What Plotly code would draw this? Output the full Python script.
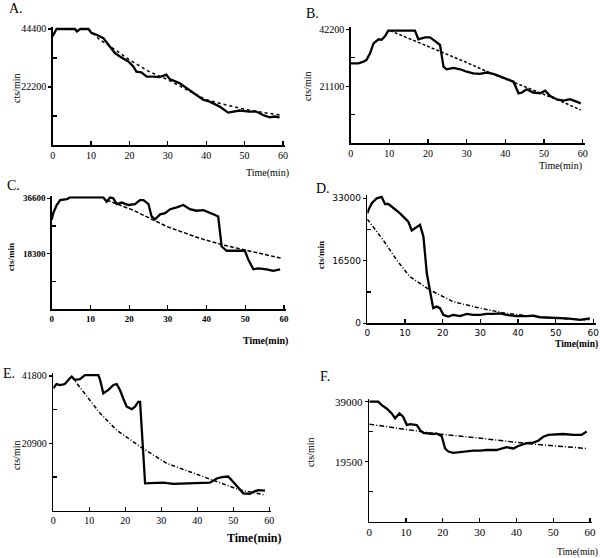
import plotly.graph_objects as go

# ---------------- data ----------------
A_t = [0, 1.0, 5.8, 6.3, 7.2, 9.3, 10.1, 11.4, 13.2, 14.9, 16.2, 17.5, 19.7, 21.0, 21.8, 23.1, 24.5, 26.2, 27.9, 29.6, 30.5, 33.0, 34.8, 37.5, 39.2, 40.9, 43.5, 45.7, 47.0, 48.7, 51.3, 53.0, 54.8, 56.5, 57.8, 59.1]
A_y = [41600, 44400, 44400, 43500, 44400, 44400, 42900, 42200, 40900, 37700, 35200, 33900, 32000, 30100, 28100, 27800, 26200, 26200, 26000, 26900, 25200, 23700, 21800, 19200, 17300, 16600, 14700, 12400, 12800, 13200, 12800, 12800, 11500, 10600, 10900, 10600]
A_fit_t = [9.3, 12, 15, 20, 25, 30, 35, 40, 45, 50, 55, 59.1]
A_fit_y = [44400, 40600, 37700, 32600, 28200, 25000, 21100, 17300, 15400, 13700, 12400, 11500]

B_t = [0, 2.0, 3.3, 4.1, 5.0, 5.9, 7.2, 8.0, 8.9, 9.7, 16.6, 17.5, 19.2, 20.5, 21.4, 22.7, 23.1, 24.0, 24.8, 26.6, 28.3, 30.0, 31.7, 33.4, 35.2, 36.9, 38.6, 40.3, 42.1, 43.4, 44.3, 45.5, 47.2, 49.0, 50.3, 51.6, 53.3, 55.0, 56.7, 58.4, 59.5]
B_y = [29600, 29600, 30200, 30900, 33300, 37000, 38500, 38300, 39700, 41700, 41700, 38500, 39200, 39200, 38300, 36700, 36400, 28400, 27400, 27900, 27400, 26500, 25900, 25700, 26200, 25700, 24700, 23700, 22800, 18500, 18800, 20000, 18800, 18500, 19500, 17500, 16300, 15800, 16300, 15400, 14800]
B_fit_t = [10.2, 15, 20, 25, 30, 35, 40, 45, 50, 55, 59.5]
B_fit_y = [41700, 38900, 36000, 33000, 29900, 26700, 23900, 21000, 18200, 15200, 12300]

C_t = [0, 0.4, 1.3, 2.2, 3.9, 4.7, 13.3, 14.2, 15.1, 15.9, 16.8, 18.1, 19.8, 21.5, 22.8, 23.7, 25.0, 25.8, 26.7, 28.0, 29.3, 30.6, 32.3, 34.0, 35.7, 37.4, 39.2, 40.9, 42.2, 43.0, 43.9, 45.2, 49.9, 50.8, 52.1, 53.4, 55.5, 57.2, 59.0]
C_y = [29500, 31700, 34400, 36000, 36300, 36900, 36900, 35500, 36900, 36600, 34700, 35200, 34400, 34700, 36000, 36000, 34700, 30600, 29700, 31300, 31700, 33000, 33600, 34400, 33000, 32500, 32700, 31900, 31100, 30600, 20700, 19300, 19300, 16300, 13200, 13500, 13200, 12700, 13200]
C_fit_t = [14.2, 17.5, 21, 29.7, 38.3, 44.3, 52, 59.4]
C_fit_y = [36000, 34400, 32700, 27300, 23400, 21200, 19000, 16800]

D_t = [0, 0.3, 1.2, 2.5, 3.8, 4.7, 5.6, 6.9, 8.7, 10.4, 10.9, 11.8, 13.1, 14.0, 14.9, 15.8, 16.6, 17.5, 18.4, 19.3, 20.2, 21.5, 22.8, 24.6, 26.4, 28.1, 29.9, 31.7, 33.5, 35.2, 37.0, 39.6, 42.3, 44.1, 45.8, 49.4, 52.9, 56.5, 59.1]
D_y = [29000, 29900, 31700, 33000, 33400, 31500, 31500, 30400, 29000, 27300, 26800, 24500, 25500, 26000, 22900, 13200, 8800, 4000, 4400, 4000, 2200, 1800, 2200, 1900, 2500, 2200, 2200, 2500, 2500, 2600, 2200, 1900, 1900, 2000, 1600, 1400, 1300, 900, 1300]
D_fit_t = [0, 4.2, 7.8, 11.3, 16.6, 22.8, 29.9, 37, 44.1, 52, 59.1]
D_fit_y = [27500, 22000, 16700, 12300, 8800, 5700, 4000, 2600, 1800, 1200, 900]

E_t = [0, 0.9, 1.9, 3.2, 4.6, 5.1, 6.0, 7.4, 8.8, 12.5, 13.0, 13.9, 15.3, 16.7, 17.6, 18.5, 19.4, 20.4, 21.8, 22.7, 23.6, 24.1, 25.5, 29.6, 30.5, 33.3, 38.9, 43.5, 45.4, 46.8, 48.6, 49.5, 50.9, 52.8, 54.6, 55.6, 57.0, 58.8]
E_y = [38000, 39300, 39000, 39300, 41100, 41600, 40600, 40800, 42100, 42100, 40600, 36400, 37500, 39000, 39300, 37500, 34900, 32300, 31500, 32300, 33800, 33800, 8500, 8500, 8700, 8300, 8500, 8700, 10000, 10400, 10600, 9500, 7700, 5400, 5200, 5900, 6400, 6200]
E_fit_t = [5.1, 9.3, 13, 17.6, 24.1, 31.5, 38.9, 45.4, 51.9, 58.8]
E_fit_y = [41600, 35400, 30200, 25000, 19900, 14700, 11600, 9000, 6400, 4900]

F_t = [0, 2.4, 3.4, 4.7, 6.1, 7.0, 8.2, 9.2, 10.2, 11.1, 12.9, 13.8, 14.7, 17.4, 18.3, 19.7, 20.6, 21.5, 22.8, 25.6, 28.3, 30.1, 31.9, 34.6, 36.4, 37.3, 39.2, 40.5, 42.8, 44.6, 45.9, 47.3, 48.7, 50.9, 52.7, 55.5, 57.7, 59.1]
F_y = [39000, 39000, 37900, 36800, 35200, 33600, 35200, 34100, 31400, 31700, 31400, 29800, 28900, 28500, 28700, 27800, 23800, 22800, 22400, 22800, 23100, 23100, 23300, 23300, 23800, 24200, 23800, 24600, 25500, 25700, 26300, 27600, 28200, 28500, 28500, 28200, 28200, 29300]
F_fit_t = [0, 8.3, 17.4, 26.5, 35.5, 44.6, 59.1]
F_fit_y = [31700, 30300, 28700, 27600, 26500, 25200, 23800]

x_ticks = [0, 10, 20, 30, 40, 50, 60]
y_max = {"A": 44400, "B": 42200, "C": 36600, "D": 33000, "E": 41800, "F": 39000}
y_ticklabels = {"A": ["22200", "44400"], "B": ["21100", "42200"], "C": ["18300", "36600"],
                "D": ["0", "16500", "33000"], "E": ["20900", "41800"], "F": ["19500", "39000"]}

# ---------------- layout helpers ----------------
W, H = 600, 558
serif = "Liberation Serif, Times New Roman, serif"
sans = "DejaVu Sans, Verdana, sans-serif"

panels = [
    dict(k="A", s=(A_t, A_y), f=(A_fit_t, A_fit_y), cal=(52.7, 283, 145, 29), ytop=45300, dash="dot",
         tf=dict(family=serif, size=10), let=(16, 8), cts=(16, 89), time=(267, 173),
         tfont=dict(family=serif, size=10), cfont=dict(family=serif, size=10)),
    dict(k="B", s=(B_t, B_y), f=(B_fit_t, B_fit_y), cal=(350.7, 582.7, 143.3, 29.3), ytop=43000, dash="3px,2px",
         tf=dict(family=serif, size=10), let=(312, 13), cts=(308, 87), time=(560, 166),
         tfont=dict(family=serif, size=10), cfont=dict(family=serif, size=10)),
    dict(k="C", s=(C_t, C_y), f=(C_fit_t, C_fit_y), cal=(51.7, 284, 309.3, 198.3), ytop=37300, dash="4px,2px",
         tf=dict(family=serif, size=9, weight="bold"), let=(13, 186), cts=(11, 257), time=(265, 341),
         tfont=dict(family=serif, size=10, weight="bold"), cfont=dict(family=serif, size=9, weight="bold")),
    dict(k="D", s=(D_t, D_y), f=(D_fit_t, D_fit_y), cal=(367.3, 593.3, 323.3, 198.3), ytop=34000, dash="4px,2px,1px,2px",
         tf=dict(family=sans, size=9), let=(323, 188), cts=(321, 255), time=(576, 344),
         tfont=dict(family=serif, size=9.5, weight="bold"), cfont=dict(family=serif, size=9, weight="bold")),
    dict(k="E", s=(E_t, E_y), f=(E_fit_t, E_fit_y), cal=(53.3, 269.3, 510.7, 376), ytop=42700, dash="4px,2px,1px,2px",
         tf=dict(family=serif, size=10), let=(9, 373), cts=(16, 456), time=(254, 538),
         tfont=dict(family=serif, size=12, weight="bold"), cfont=dict(family=serif, size=10)),
    dict(k="F", s=(F_t, F_y), f=(F_fit_t, F_fit_y), cal=(369.3, 590, 521.7, 401.7), ytop=39800, dash="5px,2px,1px,2px",
         tf=dict(family=serif, size=11), let=(325, 376), cts=(311, 453), time=(577, 552),
         tfont=dict(family=serif, size=9.5), cfont=dict(family=serif, size=10)),
]

fig = go.Figure()
annotations = []
layout = {}
XR = 60.6

for i, p in enumerate(panels):
    n = "" if i == 0 else str(i + 1)
    x0, x60, yb, yt = p["cal"]
    ym = y_max[p["k"]]
    sx = (x60 - x0) / 60.0
    sy = (yb - yt) / ym
    left, right = x0, x0 + XR * sx
    bottom, top = yb, yb - p["ytop"] * sy
    xdom = [left / W, min(right / W, 1.0)]
    ydom = [1 - bottom / H, 1 - top / H]

    if p["k"] == "D":
        major = [0, ym / 2, ym]
    else:
        major = [ym / 2, ym]
    minor = [ym * q / 4 for q in (1, 3)]

    layout["xaxis" + n] = dict(domain=xdom, range=[0, XR], anchor="y" + n, showline=True, linecolor="black",
                               linewidth=1.5, showgrid=False, zeroline=False, ticks="inside", ticklen=4,
                               tickwidth=1.2, tickcolor="black", tickmode="array", tickvals=x_ticks,
                               ticktext=[str(v) for v in x_ticks], tickfont=dict(color="black", **p["tf"]),
                               ticklabeloverflow="allow", automargin=False, fixedrange=True)
    layout["yaxis" + n] = dict(domain=ydom, range=[0, p["ytop"]], anchor="x" + n, showline=True, linecolor="black",
                               linewidth=1.5, showgrid=False, zeroline=False, ticks="outside", ticklen=3,
                               tickwidth=1.2, tickcolor="black", tickmode="array", tickvals=major,
                               ticktext=y_ticklabels[p["k"]], tickfont=dict(color="black", **p["tf"]),
                               ticklabeloverflow="allow", automargin=False, fixedrange=True,
                               minor=dict(tickmode="array", tickvals=minor, ticks="inside", ticklen=4,
                                          tickwidth=1.2, tickcolor="black", showgrid=False))

    fig.add_trace(go.Scatter(x=p["f"][0], y=p["f"][1], mode="lines", xaxis="x" + n, yaxis="y" + n,
                             line=dict(color="black", width=1.5, dash=p["dash"]), hoverinfo="skip"))
    fig.add_trace(go.Scatter(x=p["s"][0], y=p["s"][1], mode="lines", xaxis="x" + n, yaxis="y" + n,
                             line=dict(color="black", width=2.3), hoverinfo="skip"))

    lx, ly = p["let"]
    annotations.append(dict(text=p["k"] + ".", x=lx / W, y=1 - ly / H, xref="paper", yref="paper",
                            showarrow=False, xanchor="center", yanchor="middle",
                            font=dict(family=serif, size=14, color="black")))
    cx, cy = p["cts"]
    annotations.append(dict(text="cts/min", x=cx / W, y=1 - cy / H, xref="paper", yref="paper",
                            showarrow=False, xanchor="center", yanchor="middle", textangle=-90,
                            font=dict(color="black", **p["cfont"])))
    tx, ty = p["time"]
    annotations.append(dict(text="Time(min)", x=tx / W, y=1 - ty / H, xref="paper", yref="paper",
                            showarrow=False, xanchor="center", yanchor="middle",
                            font=dict(color="black", **p["tfont"])))

fig.update_layout(width=W, height=H, margin=dict(l=0, r=0, t=0, b=0, pad=0), showlegend=False,
                  plot_bgcolor="white", paper_bgcolor="white", annotations=annotations,
                  hovermode=False, **layout)

fig.write_html("out.html", config={"displayModeBar": False, "staticPlot": True},
               post_script="document.body.style.margin='0';document.body.style.padding='0';")
